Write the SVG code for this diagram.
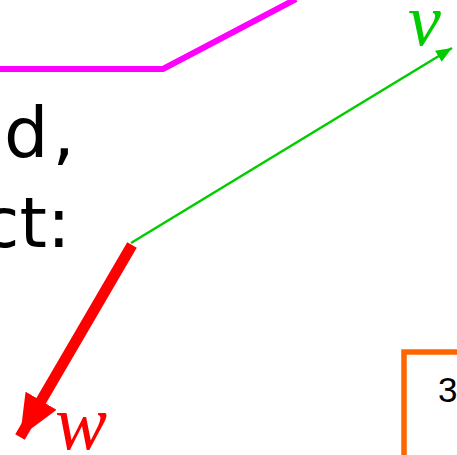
<svg xmlns="http://www.w3.org/2000/svg" width="457" height="455" viewBox="0 0 457 455">
<style>
.big{font-family:"DejaVu Sans",sans-serif;font-size:70px;fill:#000;}
.math{font-family:"Liberation Serif",serif;font-style:italic;}
</style>
<defs>
<marker id="ga" markerUnits="userSpaceOnUse" markerWidth="17" markerHeight="13" refX="16" refY="6.5" orient="auto"><path d="M0,0 L16,6.5 L0,13 z" fill="#00cc00"/></marker>
<marker id="ra" markerUnits="userSpaceOnUse" markerWidth="44" markerHeight="36" refX="42" refY="18" orient="auto"><path d="M0,0 L42,18 L0,36 z" fill="#ff0000"/></marker>
</defs>
<rect width="457" height="455" fill="#fff"/>
<g id="magenta-line"><polyline points="0,69 163,69 296,-1" fill="none" stroke="#ff00ff" stroke-width="6"/></g>
<g id="text">
<text class="big" x="4" y="157" letter-spacing="4">d,</text>
<text class="big" x="-19" y="247">ct:</text>
</g>
<g id="connectors">
<line x1="131" y1="243" x2="452" y2="48" stroke="#00cc00" stroke-width="2.5" marker-end="url(#ga)"/>
<line x1="132" y1="245" x2="20" y2="437" stroke="#ff0000" stroke-width="11" marker-end="url(#ra)"/>
</g>
<g id="labels">
<text class="math" x="408" y="45" font-size="74" fill="#00cc00">v</text>
<text class="math" x="55" y="449" font-size="78" fill="#ff0000">w</text>
</g>
<g id="orange-box">
<polyline points="404,455 404,352 460,352" fill="none" stroke="#ff6600" stroke-width="5.5"/>
<text x="438" y="402" font-family="Liberation Sans,sans-serif" font-size="35" fill="#000">3</text>
</g>
</svg>
